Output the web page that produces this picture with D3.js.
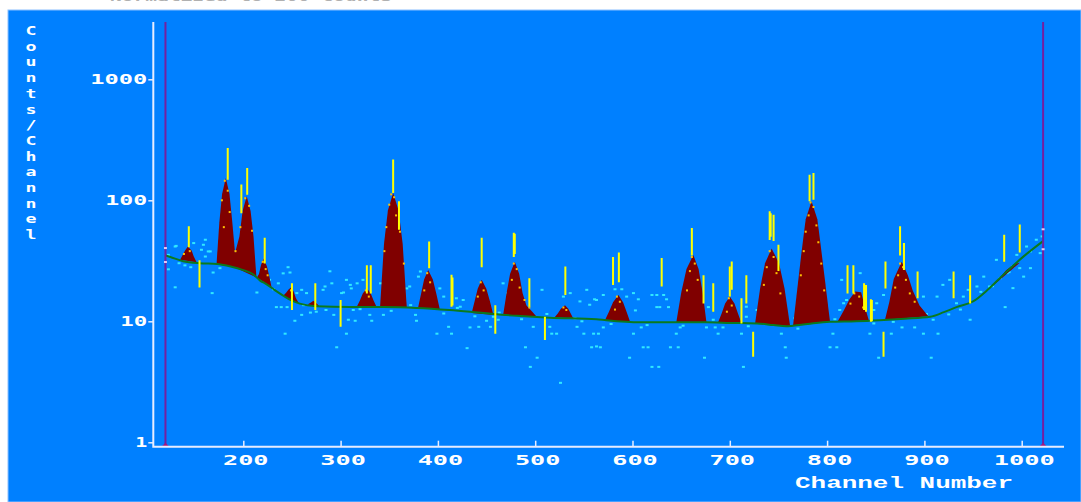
<!DOCTYPE html>
<html lang="en">
<head>
<meta charset="UTF-8">
<title>Counts/Channel spectrum</title>
<style>
    body { margin: 0; background: #fff; }
    svg { display: block; }
    .tick text, .lbl {
        font-family: "DejaVu Sans Mono", monospace;
        font-weight: bold;
        font-size: 14px;
        fill: #fff;
    }
    .serif { font-family: "Liberation Mono", monospace; }
</style>
</head>
<body>
<svg width="1081" height="502"></svg>
<script src="https://d3js.org/d3.v7.min.js"></script>
<script>
    // axis ticks
    const xTicks = [200, 300, 400, 500, 600, 700, 800, 900, 1000];
    const yTicks = [1, 10, 100, 1000];

    // region-of-interest cursors (channel) and their end marks [channel, counts]
    const roiLines = [120, 1022];
    const roiMarks = [[120, 40.3], [120, 30.9], [1022, 57.6], [1022, 39.4]];

    // fitted background continuum [channel, counts]
    const baseline = [
        [120, 35], [125, 34], [138, 31.4], [155, 30.2], [173, 29.8], [186, 28.5],
        [200, 26.5], [210, 24.5], [217, 21.8], [224, 20.2], [232, 18.2], [241, 16.3],
        [250, 14.8], [258, 14], [275, 13.3], [310, 13.1], [344, 13.1], [378, 12.9],
        [412, 12.4], [447, 11.7], [481, 11.1], [515, 10.7], [563, 10.4], [573, 10.2],
        [608, 9.8], [642, 9.8], [676, 9.8], [700, 9.7], [728, 9.6], [745, 9.3],
        [758, 9.1], [765, 9.2], [780, 9.5], [803, 9.9], [830, 10], [854, 10.2],
        [880, 10.5], [906, 10.9], [920, 11.9], [933, 13.1], [950, 14.6], [965, 18.2],
        [981, 24.2], [1002, 34.4], [1022, 46]
    ];

    // peak outlines above the continuum [channel, counts]
    const peaks = [
        [[135, 32.3], [137, 34.5], [140, 38.3], [143, 41.5], [147, 38.3], [149, 34.5], [152, 30.8]],
        [[172.5, 29.8], [175.4, 66], [178.2, 113], [182, 153], [185.8, 113], [188.7, 66], [191.5, 36.6], [191.5, 27.8]],
        [[191.5, 27.8], [191.5, 36.6], [196, 50.2], [199.3, 81.4], [203.5, 108], [207.5, 81.4], [210.5, 50.2], [213.5, 23]],
        [[214, 23], [216.1, 24.6], [218.2, 29.2], [221, 33], [224.2, 28.5], [226.6, 23.8], [229, 19.2]],
        [[241, 16.3], [244, 17.2], [246.5, 18.3], [249, 19], [251.5, 17.8], [254, 15.6], [257, 14.1]],
        [[266, 13.8], [270, 14.4], [272, 14.8], [274, 14.4], [278, 13.4]],
        [[316.5, 13.1], [319.7, 14.8], [322.8, 17], [327, 18.8], [331, 17], [334, 14.8], [337, 13.1]],
        [[340.5, 13], [344.6, 43.6], [348.6, 82.4], [354, 115], [359.6, 82.4], [363.8, 43.6], [368, 13]],
        [[379.5, 12.8], [382.7, 16.9], [385.8, 22.2], [390, 26.6], [394.8, 22.2], [398.4, 16.9], [402, 12.5]],
        [[434.7, 11.7], [437.8, 14.7], [440.9, 18.6], [445, 22], [449.8, 18.6], [453.4, 14.7], [457, 11.3]],
        [[467, 11.2], [470.6, 17.1], [474.2, 24.7], [479, 31.1], [483.5, 24.7], [487, 17.1], [491, 13.5], [497, 12], [501.5, 10.9]],
        [[520, 10.8], [523.2, 11.6], [526.4, 12.7], [530.6, 13.6], [534, 12.7], [536.5, 11.6], [539, 10.6]],
        [[571.7, 10.2], [575.8, 12], [580, 14.4], [585.5, 16.5], [590.3, 14.4], [593.9, 12], [597.5, 9.9]],
        [[645, 9.8], [650.2, 17.5], [655.5, 27.1], [662.5, 35.3], [667.9, 27.1], [672, 17.5], [676, 9.8]],
        [[688, 9.8], [691.6, 11.6], [695.2, 14], [700, 16], [704.8, 14], [708.4, 11.6], [712, 9.7]],
        [[726, 9.6], [731.1, 18.6], [736.2, 30.2], [743, 40], [750.6, 30.2], [756.3, 18.6], [762, 9.1]],
        [[765, 9.2], [773.5, 36], [778, 69.7], [784, 98], [790, 69.7], [794.5, 36], [803, 9.9]],
        [[811, 10], [817, 12.2], [823, 15.2], [829, 17.6], [835, 17.4], [839, 13], [843, 10.1]],
        [[859.5, 10.3], [864, 14.5], [868.5, 22.4], [876.7, 31], [883, 24], [888, 18], [895, 13.5], [904, 11]],
        [[968, 18.9], [976, 22.3], [984, 26.4], [992, 29.6], [998, 30.5]]
    ];

    // channel counts inside the peaks, drawn over the fill [channel, counts]
    const peakDots = [
        [139, 36], [145, 38], [178, 100], [181, 145], [184, 120], [180, 60], [186, 80], [197, 60],
        [202, 104], [206, 90], [209, 56], [192, 38], [220, 31], [223, 27], [225, 24], [249, 18],
        [326, 18], [329, 16], [352, 112], [355, 106], [350, 92], [357, 75], [347, 60], [361, 55],
        [345, 38], [365, 30], [389, 25], [392, 21], [386, 18], [444, 21], [447, 18], [441, 16],
        [478, 30], [481, 27], [476, 22], [484, 19], [489, 15], [494, 13], [529, 13], [532, 12.4],
        [584, 16], [587, 14.5], [582, 12.5], [661, 34], [664, 30], [659, 26], [667, 22], [656, 18],
        [699, 15.5], [702, 13.5], [697, 12], [741, 38], [745, 34], [738, 28], [748, 25], [735, 20],
        [752, 17], [783, 96], [786, 88], [781, 75], [789, 62], [778, 55], [791, 45], [776, 38],
        [794, 30], [773, 24], [797, 18], [828, 17], [833, 16], [824, 14], [837, 13], [875, 30],
        [878, 28], [873, 24], [881, 22], [870, 19], [885, 17], [890, 14.5]
    ];

    // single channel counts away from the fit [channel, counts]
    const dots = [
        [123, 26.9], [130, 19.1], [134, 30.2], [131, 42], [159, 42.9], [166, 37.8], [161, 34.3], [169, 25.3],
        [168, 17.1], [123, 35.4], [130, 41.5], [161, 47.2], [149, 44.3], [164, 37.8], [157, 39],
        [214, 17.3], [227, 22], [231, 18.4], [236, 20.6], [241, 24.9], [246, 28], [248, 25.3], [234, 13.1],
        [239, 13.1], [245, 13.1], [253, 10.1], [255, 17.1], [260, 18.2], [260, 11.3], [265, 17.1], [269, 11.8],
        [275, 12], [282, 18.2], [284, 19.4], [289, 25.9], [291, 20.6], [293, 11.3], [296, 6.1], [301, 17.1],
        [303, 17.3], [306, 22], [310, 20], [311, 18.7], [313, 12.4], [315, 10.1], [317, 20.6], [323, 22],
        [330, 11.3], [332, 10.1], [341, 20.6], [344, 11.3], [243, 7.9], [306, 7.9], [308, 10.3], [368, 18.7],
        [371, 19.4], [378, 10.1], [380, 23.4], [382, 25.8], [377, 11.3], [399, 7.9], [402, 18.7], [406, 16],
        [411, 9], [414, 7.9], [419, 15.5], [423, 13.2], [426, 15], [430, 6], [433, 8.9], [442, 9],
        [450, 10.1], [454, 9], [457, 10.9], [462, 10.3], [467, 20.6], [472, 17.1], [490, 6.1], [495, 4.2],
        [498, 9], [502, 5], [507, 18.2], [515, 9], [517, 7.9], [522, 7.9], [526, 3.1], [529, 16],
        [536, 17.1], [543, 9], [550, 7.9], [553, 18.2], [556, 13.7], [560, 7.9], [558, 6.1], [563, 15],
        [563, 6.2], [546, 14.6], [541, 10.6],
        [561, 15.2], [570, 16.5], [565, 7.9], [570, 8.9], [567, 6.1], [582, 18.4], [589, 18.4], [594, 16],
        [601, 17.1], [606, 15.2], [603, 12.3], [597, 5], [601, 7.9], [609, 8.9], [611, 6.1], [616, 6.1],
        [620, 4.2], [627, 4.2], [620, 16.5], [625, 16.5], [632, 16.5], [635, 15.2], [625, 13.1], [628, 13.1],
        [637, 13.1], [639, 6.1], [647, 6.1], [645, 7.9], [649, 8.9], [678, 13.1], [674, 5], [676, 8.9],
        [685, 8.9], [688, 7.9], [693, 8.9], [712, 7.9], [714, 4.2], [717, 13.2], [717, 10.9], [728, 12.4],
        [753, 7.9], [757, 6.1], [758, 5], [767, 10.6], [803, 6.1], [810, 6.1], [806, 7.9], [813, 12.4],
        [815, 22], [820, 15], [817, 14.1], [827, 10.9], [834, 25], [844, 7.9], [848, 12.4], [851, 14.1],
        [853, 5], [858, 16.5], [866, 7.9], [877, 8.9], [890, 8.9], [899, 7.9], [899, 16], [909, 10.3],
        [907, 5], [913, 16], [914, 7.9], [919, 20], [926, 22], [933, 14.1], [940, 16], [947, 10.3],
        [945, 18.2], [954, 19.4], [961, 23.4], [967, 19.4], [974, 32.2], [978, 22.7], [983, 13.1], [985, 25],
        [991, 28.4], [991, 18.8], [995, 35.4], [998, 27.5], [1002, 23.4], [1009, 37.8], [1009, 27.5],
        [1015, 47.2], [1019, 36.6], [1021, 50.3], [1005, 41.5],
        [140, 29], [146, 28], [176, 27.5], [262, 13.6], [285, 12.4], [320, 12.6], [352, 12.2], [372, 13.6],
        [406, 11.6], [420, 12.9], [438, 11], [463, 11.8], [486, 10.4], [512, 11.5], [548, 10], [578, 9.5],
        [592, 10.5], [615, 9.3], [652, 9.2], [683, 10.3], [719, 9.1], [735, 10.1], [770, 8.7], [808, 10.4],
        [848, 9.6], [868, 9.9], [902, 11.5], [925, 11.4], [937, 12.5], [958, 17.5], [970, 19.5], [987, 25.5]
    ];

    // error bars [channel, low, high]
    const errBars = [
        [144, 41, 61], [155, 19, 32], [184, 148, 271], [198, 78, 135], [204, 111, 185], [222, 30, 49],
        [250, 12.4, 20.6], [274, 12.4, 20.6], [300, 9, 15], [327, 17, 29], [331, 17, 29], [354, 115, 217],
        [360, 57, 98], [391, 27.5, 45.7], [414, 13.2, 24.2], [415, 13.5, 23], [445, 28, 49], [459, 7.9, 13.6],
        [478, 34, 54], [479, 36, 53], [494, 13.2, 22.7], [510, 7, 10.9], [531, 16.5, 28.4], [580, 20, 34],
        [586, 21, 37], [630, 19.4, 33.3], [661, 35, 59], [673, 14, 24], [683, 12, 20.6], [700, 16, 28.4],
        [702, 18.2, 31.2], [712, 9.6, 15.5], [717, 14, 24], [724, 5.1, 8.2], [741, 47, 81], [742, 50, 78],
        [745, 46, 76], [750, 26, 43], [782, 98, 163], [786, 101, 168], [821, 17, 29], [827, 17, 29],
        [838, 12.4, 20.6], [840, 12, 20], [845, 9.9, 15.2], [846, 10, 15], [858, 5.1, 8.2], [860, 18.7, 31.2],
        [875, 35, 61], [879, 26.6, 44.3], [893, 15.5, 25.8], [930, 15.5, 25.8], [947, 14, 24], [982, 31, 52],
        [998, 37, 63]
    ];

    const W = 1081, H = 502;
    const plot = { left: 153.3, right: 1064, top: 22, bottom: 446.7 };

    const x = d3.scaleLinear().domain([200, 1000]).range([243.3, 1021.7]);
    const y = d3.scaleLog().domain([1, 1000]).range([442.3, 79.3]);

    const svg = d3.select("svg");

    // title, mostly above the window
    svg.append("text")
        .attr("class", "lbl")
        .attr("x", 110).attr("y", 1)
        .attr("textLength", 282).attr("lengthAdjust", "spacingAndGlyphs")
        .style("fill", "#b0b0b0")
        .text("Normalized to 200 Counts");

    // blue panel
    svg.append("rect")
        .attr("x", 8).attr("y", 10)
        .attr("width", W - 8).attr("height", H - 10)
        .attr("fill", "#0080ff")
        .attr("stroke", "#8cc0ff").attr("stroke-width", 1);

    svg.append("defs").append("clipPath").attr("id", "clip")
        .append("rect")
        .attr("x", plot.left + 1).attr("y", plot.top)
        .attr("width", plot.right - plot.left - 1).attr("height", plot.bottom - plot.top - 1);

    const g = svg.append("g").attr("clip-path", "url(#clip)");

    // channel counts
    g.selectAll(".dot")
        .data(dots)
        .join("rect")
        .attr("class", "dot")
        .attr("x", d => x(d[0]) - 1.5)
        .attr("y", d => y(d[1]) - 1)
        .attr("width", 3).attr("height", 2)
        .attr("fill", "#30e8ff");

    // peaks
    const peakLine = d3.line()
        .x(d => x(d[0]))
        .y(d => y(d[1]));

    g.selectAll(".peak")
        .data(peaks)
        .join("path")
        .attr("class", "peak")
        .attr("d", d => peakLine(d) + "Z")
        .attr("fill", "#800000");

    g.selectAll(".pdot")
        .data(peakDots)
        .join("rect")
        .attr("class", "pdot")
        .attr("x", d => x(d[0]) - 1)
        .attr("y", d => y(d[1]) - 1)
        .attr("width", 2).attr("height", 2)
        .attr("fill", "#ffc000");

    // continuum
    g.append("path")
        .datum(baseline)
        .attr("d", peakLine.curve(d3.curveMonotoneX))
        .attr("fill", "none")
        .attr("stroke", "#0a7a1e")
        .attr("stroke-width", 2);

    // error bars
    g.selectAll(".err")
        .data(errBars)
        .join("line")
        .attr("class", "err")
        .attr("x1", d => x(d[0])).attr("x2", d => x(d[0]))
        .attr("y1", d => y(d[1])).attr("y2", d => y(d[2]))
        .attr("stroke", "#ffff00")
        .attr("stroke-width", 2);

    // ROI cursors
    svg.selectAll(".roi")
        .data(roiLines)
        .join("line")
        .attr("class", "roi")
        .attr("x1", d => x(d)).attr("x2", d => x(d))
        .attr("y1", plot.top).attr("y2", plot.bottom)
        .attr("stroke", "#7420a0")
        .attr("stroke-width", 2);

    svg.selectAll(".roiFoot")
        .data(roiLines)
        .join("path")
        .attr("class", "roiFoot")
        .attr("d", d => `M${x(d) - 4},${plot.bottom} L${x(d)},${plot.bottom - 4} L${x(d) + 4},${plot.bottom} Z`)
        .attr("fill", "#a01880");

    svg.selectAll(".roiMark")
        .data(roiMarks)
        .join("rect")
        .attr("class", "roiMark")
        .attr("x", d => x(d[0]) - 1.5)
        .attr("y", d => y(d[1]) - 1)
        .attr("width", 3).attr("height", 2)
        .attr("fill", "#e8c8f0");

    // axis frame
    svg.append("path")
        .attr("d", `M${plot.left},${plot.top} V${plot.bottom} H${plot.right}`)
        .attr("fill", "none")
        .attr("stroke", "#e6ecff")
        .attr("stroke-width", 2);

    // y axis
    const ya = svg.append("g")
        .attr("transform", `translate(${plot.left},0)`)
        .call(d3.axisLeft(y).tickValues(yTicks).tickFormat(d3.format("d")).tickSize(5).tickPadding(1));
    ya.select(".domain").remove();
    ya.selectAll(".tick line").attr("stroke", "#e6ecff").attr("stroke-width", 1.5);
    ya.selectAll(".tick text")
        .attr("textLength", d => String(d).length * 15 - 3)
        .attr("lengthAdjust", "spacingAndGlyphs");

    // x axis, ticks pointing inward
    const xa = svg.append("g")
        .attr("transform", `translate(0,${plot.bottom})`)
        .call(d3.axisBottom(x).tickValues(xTicks).tickFormat(d3.format("d"))
            .tickSizeInner(-6).tickSizeOuter(0).tickPadding(8));
    xa.select(".domain").remove();
    xa.selectAll(".tick line").attr("stroke", "#e6ecff").attr("stroke-width", 1.5);
    xa.selectAll(".tick text")
        .attr("x", 2)
        .attr("textLength", d => String(d).length * 15.5 - 1)
        .attr("lengthAdjust", "spacingAndGlyphs");

    // axis titles
    svg.append("text")
        .attr("class", "lbl serif")
        .attr("x", 904).attr("y", 488)
        .attr("text-anchor", "middle")
        .attr("textLength", 218).attr("lengthAdjust", "spacingAndGlyphs")
        .style("font-size", "17px")
        .text("Channel Number");

    svg.append("g")
        .selectAll("text")
        .data("Counts/Channel".split(""))
        .join("text")
        .attr("class", "lbl")
        .attr("x", 31)
        .attr("y", (d, i) => 35 + i * 15.7)
        .attr("text-anchor", "middle")
        .attr("textLength", 11).attr("lengthAdjust", "spacingAndGlyphs")
        .style("font-size", "13px")
        .text(d => d);
</script>
</body>
</html>
